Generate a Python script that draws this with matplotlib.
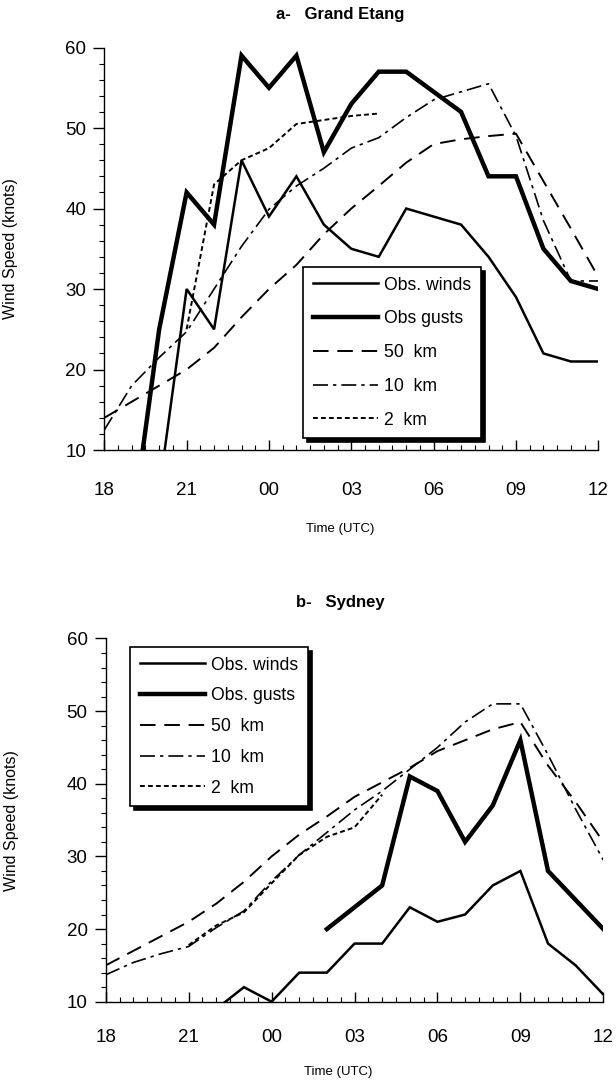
import numpy as np
import matplotlib
matplotlib.use("Agg")
import matplotlib.pyplot as plt
from matplotlib.ticker import MultipleLocator

plt.rcParams['font.family'] = ['Liberation Sans', 'DejaVu Sans']

# hours after 18 UTC
tick_hours = [0, 3, 6, 9, 12, 15, 18]
tick_labels = ["18", "21", "00", "03", "06", "09", "12"]

# a- Grand Etang
a_wind_h = list(range(2, 19))
a_wind = [5, 30, 25, 46, 39, 44, 38, 35, 34, 40, 39, 38, 34, 29, 22, 21, 21]
a_gust_h = list(range(1, 19))
a_gust = [0, 25, 42, 38, 59, 55, 59, 47, 53, 57, 57, 54.5, 52, 44, 44, 35, 31, 30]
a_50_h = list(range(0, 19))
a_50 = [14, 16, 18, 20, 22.7, 26.5, 30, 33, 36.8, 40, 42.8, 45.7, 48, 48.6, 49,
        49.3, 43.4, 37.5, 31.5]
a_10_h = list(range(0, 19))
a_10 = [12.5, 18, 21.5, 24.7, 30, 35.3, 39.9, 42.8, 45, 47.5, 48.8, 51.3, 53.5,
        54.5, 55.5, 49, 38.5, 31, 31]
a_2_h = list(range(3, 11))
a_2 = [25, 43, 46, 47.5, 50.5, 51, 51.5, 51.8]

# b- Sydney
b_wind_h = list(range(4, 19))
b_wind = [9, 12, 10, 14, 14, 18, 18, 23, 21, 22, 26, 28, 18, 15, 11]
b_gust_h = list(range(8, 19))
b_gust = [20, 23, 26, 41, 39, 32, 37, 46, 28, 24, 20]
b_50_h = list(range(0, 19))
b_50 = [15, 17, 19, 21, 23.5, 26.5, 30, 33, 35.5, 38.2, 40.2, 42.2, 44.5, 46,
        47.5, 48.5, 42.5, 37.5, 32]
b_10_h = list(range(0, 19))
b_10 = [13.7, 15.4, 16.6, 17.6, 20.2, 22.5, 26.6, 30.2, 33.3, 36.4, 39, 42, 45,
        48.5, 51, 51, 44, 36.5, 29.5]
b_2_h = list(range(3, 11))
b_2 = [17.8, 20.5, 22.3, 26.3, 30.2, 32.7, 34, 38.5]


def panel(ax, title, series, gust_label, title_xy, leg_xy, xlab_xy, xpad, lspace):
    wind, gust, km50, km10, km2 = series
    ax.plot(*wind, color='k', lw=1.8, label='Obs. winds', solid_joinstyle='miter')
    ax.plot(*gust, color='k', lw=3.2, label=gust_label, solid_joinstyle='miter')
    ax.plot(*km50, color='k', lw=1.4, ls=(0, (8, 4.5)), label='50  km')
    ax.plot(*km10, color='k', lw=1.2, ls=(0, (9, 3, 2, 3)), label='10  km')
    ax.plot(*km2, color='k', lw=1.4, ls=(0, (2.5, 1.6)), label='2  km')

    ax.set_xlim(0, 18)
    ax.set_ylim(10, 60)
    for s in ['top', 'right']:
        ax.spines[s].set_visible(False)
    ax.spines['left'].set_linewidth(1.0)
    ax.spines['bottom'].set_linewidth(1.0)

    ax.set_xticks(tick_hours)
    ax.set_xticklabels(tick_labels)
    ax.xaxis.set_minor_locator(MultipleLocator(0.5))
    ax.yaxis.set_major_locator(MultipleLocator(10))
    ax.yaxis.set_minor_locator(MultipleLocator(2))
    ax.tick_params(axis='x', which='major', direction='in', length=7, width=1,
                   pad=xpad, labelsize=13.5)
    ax.tick_params(axis='x', which='minor', direction='in', length=3.5, width=0.8)
    ax.tick_params(axis='y', which='major', direction='out', length=8, width=1,
                   pad=5, labelsize=13.5)
    ax.tick_params(axis='y', which='minor', direction='out', length=3.5, width=0.8)

    ax.set_ylabel('Wind Speed (knots)', fontsize=11.5)
    ax.yaxis.set_label_coords(-0.175, 0.5)
    ax.set_xlabel('Time (UTC)', fontsize=9.5)
    ax.xaxis.set_label_coords(*xlab_xy)
    ax.text(title_xy[0], title_xy[1], title, transform=ax.transAxes,
            ha='center', va='center', fontsize=12, fontweight='bold')

    leg = ax.legend(loc='upper left', bbox_to_anchor=leg_xy, borderaxespad=0,
                    fancybox=False, framealpha=1, edgecolor='k', fontsize=12.7,
                    handlelength=3.7, handletextpad=0.35, labelspacing=lspace,
                    borderpad=0.55,
                    shadow={'color': 'k', 'alpha': 1, 'ox': 3, 'oy': -3})
    leg.get_frame().set_linewidth(1.2)


fig = plt.figure(figsize=(6.16, 10.8), dpi=100)
ax1 = fig.add_axes([0.1693, 0.5833, 0.802, 0.3727])
ax2 = fig.add_axes([0.1716, 0.0725, 0.8078, 0.3363])

panel(ax1, 'a-   Grand Etang',
      [(a_wind_h, a_wind), (a_gust_h, a_gust), (a_50_h, a_50),
       (a_10_h, a_10), (a_2_h, a_2)],
      'Obs gusts', (0.477, 1.081), (0.402, 0.455), (0.477, -0.181), 23, 0.95)
panel(ax2, 'b-   Sydney',
      [(b_wind_h, b_wind), (b_gust_h, b_gust), (b_50_h, b_50),
       (b_10_h, b_10), (b_2_h, b_2)],
      'Obs. gusts', (0.471, 1.098), (0.049, 0.977), (0.467, -0.177), 20, 0.78)

fig.savefig('out.png', dpi=100)
